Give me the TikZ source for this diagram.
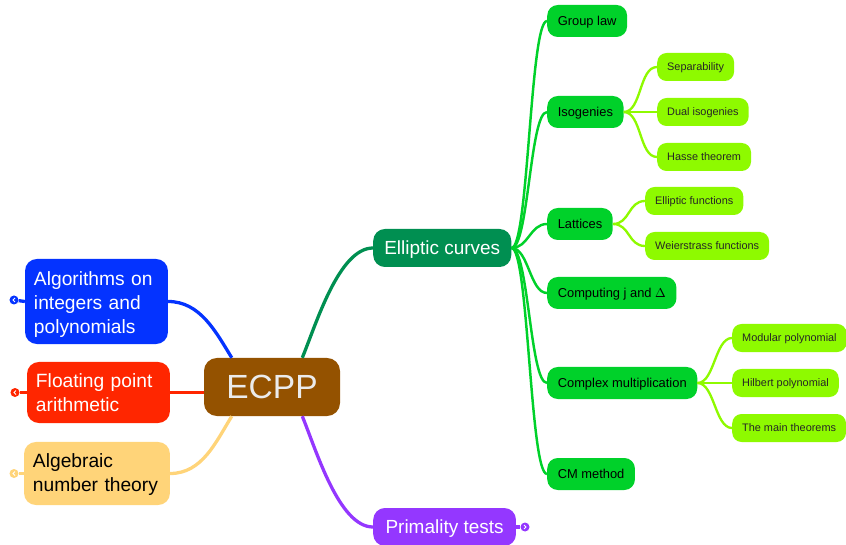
\documentclass[tikz,border=0pt]{standalone}
\usepackage{fontspec}
\setmainfont{Liberation Sans}
\usepackage{tikz}
\definecolor{ecppbrown}{HTML}{945200}
\definecolor{algoblue}{HTML}{0433FF}
\definecolor{floatred}{HTML}{FF2600}
\definecolor{numberorange}{HTML}{FFD479}
\definecolor{ellgreen}{HTML}{008F51}
\definecolor{primpurple}{HTML}{9437FF}
\definecolor{childgreen}{HTML}{00D12A}
\definecolor{leafgreen}{HTML}{8EFA00}

\begin{document}
\begin{tikzpicture}[x=0.03cm,y=-0.03cm,
	branch/.style={rounded corners=10pt,inner xsep=9.4pt,inner ysep=0pt,
		text height=14.5pt,text depth=2.9pt,
		minimum height=1.14cm,text=white,font=\fontsize{16.2}{20.4}\selectfont},
	sidebox/.style={rounded corners=10pt,inner xsep=7.6pt,inner ysep=0pt,
		align=left,font=\fontsize{16.4}{20.4}\selectfont},
	child/.style={fill=childgreen,rounded corners=9pt,inner xsep=9pt,
		inner ysep=0pt,minimum height=0.96cm,anchor=west,
		text height=10pt,text depth=2.1pt,
		font=\fontsize{11}{13}\selectfont},
	leaf/.style={fill=leafgreen,rounded corners=8pt,inner xsep=8.5pt,
		inner ysep=0pt,minimum height=0.84cm,anchor=west,text=black!85,
		text height=8.5pt,text depth=1.9pt,
		font=\fontsize{9.3}{11}\selectfont},
	toggle/.style={circle,inner sep=0pt,minimum size=0.27cm},
	chev/.style={white,line width=0.8pt},
	mainlink/.style={line width=2.8pt},
	childlink/.style={line width=2.1pt,childgreen},
	leaflink/.style={line width=2pt,leafgreen}]
	\useasboundingbox (0,0) rectangle (846,545);

	% root
	\node[fill=ecppbrown,rounded corners=11pt,minimum width=4.08cm,
		minimum height=1.74cm,inner ysep=0pt,text height=25pt,text depth=4.6pt,
		text=black!8,font=\fontsize{28.6}{34}\selectfont]
		(ecpp) at (272,387) {ECPP};

	% left side
	\node[sidebox,fill=algoblue,text=white,text width=3.75cm,
		minimum height=2.55cm] (algo) at (96.5,301.5)
		{\rule{0pt}{1.03em}Algorithms on\\integers and\\polynomials};
	\node[sidebox,fill=floatred,text=white,text width=3.75cm,
		minimum height=1.83cm] (float) at (98.5,392.5)
		{Floating point\\arithmetic};
	\node[sidebox,fill=numberorange,text=black,text width=3.84cm,
		minimum height=1.89cm] (numth) at (97,473.5)
		{\rule{0pt}{0.85em}Algebraic\\number theory};

	% right side
	\node[branch,fill=ellgreen,anchor=west] (ell) at (373,248) {Elliptic curves};
	\node[branch,fill=primpurple,anchor=west,inner xsep=10.5pt] (prim) at (373,527)
		{Primality tests};

	\node[child] (grouplaw) at (547,21) {Group law};
	\node[child] (isog) at (547,112) {Isogenies};
	\node[child] (latt) at (547,224) {Lattices};
	\node[child] (jdelta) at (547,293) {Computing j and $\Delta$};
	\node[child] (cmult) at (547,383) {Complex multiplication};
	\node[child] (cmmeth) at (547,474) {CM method};

	\node[leaf] (separ) at (657,67) {Separability};
	\node[leaf] (dualis) at (657,112) {Dual isogenies};
	\node[leaf] (hasse) at (657,157) {Hasse theorem};
	\node[leaf] (ellfun) at (645,201) {Elliptic functions};
	\node[leaf] (weier) at (645,246) {Weierstrass functions};
	\node[leaf] (modpol) at (732,338) {Modular polynomial};
	\node[leaf] (hilpol) at (732,383) {Hilbert polynomial};
	\node[leaf] (mainth) at (732,428) {The main theorems};

	% toggles
	\node[toggle,fill=algoblue] (algotog) at (14,300) {};
	\node[toggle,fill=floatred] (floattog) at (15,392.5) {};
	\node[toggle,fill=numberorange] (numthtog) at (14,473.5) {};
	\node[toggle,fill=primpurple] (primtog) at (525,527) {};
	\foreach \t in {algotog,floattog,numthtog}
		\draw[chev] (\t.center) ++(1,-2) -- ++(-2,2) -- ++(2,2);
	\draw[chev] (primtog.center) ++(-1,-2) -- ++(2,2) -- ++(-2,2);

	\draw[mainlink,algoblue] (algo.west) -- (algotog);
	\draw[mainlink,floatred] (float.west) -- (floattog);
	\draw[mainlink,numberorange] (numth.west) -- (numthtog);
	\draw[mainlink,primpurple] (prim.east) -- (primtog);

	% branches from the root
	\draw[mainlink,algoblue] (algo.east) .. controls +(32,0) and +(-16,-26) .. (ecpp.144);
	\draw[mainlink,floatred] (float.east) -- (ecpp.west |- float.east);
	\draw[mainlink,numberorange] (numth.east) .. controls +(32,0) and +(-16,26) .. (ecpp.216);
	\draw[mainlink,ellgreen] (ecpp.44) .. controls +(14,-34) and +(-34,0) .. (ell.west);
	\draw[mainlink,primpurple] (ecpp.316) .. controls +(14,34) and +(-34,0) .. (prim.west);

	\foreach \n in {grouplaw,isog,latt,jdelta,cmult,cmmeth}
		\draw[childlink] (ell.east) .. controls +(17,0) and +(-17,0) .. (\n.west);
	\foreach \n in {separ,dualis,hasse}
		\draw[leaflink] (isog.east) .. controls +(18,0) and +(-18,0) .. (\n.west);
	\foreach \n in {ellfun,weier}
		\draw[leaflink] (latt.east) .. controls +(17,0) and +(-17,0) .. (\n.west);
	\foreach \n in {modpol,hilpol,mainth}
		\draw[leaflink] (cmult.east) .. controls +(17,0) and +(-17,0) .. (\n.west);
\end{tikzpicture}
\end{document}
